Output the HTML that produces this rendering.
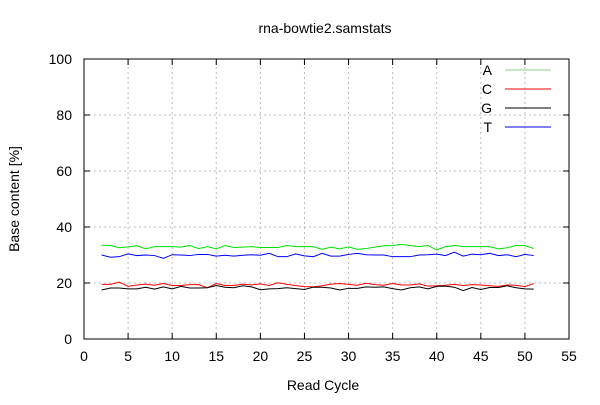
<!DOCTYPE html>
<html><head><meta charset="utf-8"><style>
body{margin:0;background:#fff;font-family:"Liberation Sans",sans-serif;}
svg text{font-family:"Liberation Sans",sans-serif;}
</style></head><body>
<svg id="chart" width="600" height="400" xmlns="http://www.w3.org/2000/svg">
<text x="325" y="33" font-size="14" text-anchor="middle">rna-bowtie2.samstats</text>
<text transform="translate(19,199) rotate(-90)" font-size="14" text-anchor="middle">Base content [%]</text>
<text x="323" y="390" font-size="14" text-anchor="middle">Read Cycle</text>
<g id="grid"></g><g id="axes"></g><g id="series"></g><g id="legend"></g>
</svg>
<script>
const xTicks=[0,5,10,15,20,25,30,35,40,45,50,55];
const yTicks=[0,20,40,60,80,100];
const cycles=[2,3,4,5,6,7,8,9,10,11,12,13,14,15,16,17,18,19,20,21,22,23,24,25,26,27,28,29,30,31,32,33,34,35,36,37,38,39,40,41,42,43,44,45,46,47,48,49,50,51];
const seriesA=[33.5,33.4,32.6,32.9,33.3,32.2,33,33,33,32.8,33.4,32.3,33,32.2,33.4,32.7,32.8,33,32.7,32.7,32.7,33.4,33,33,33,32,32.8,32.2,32.9,32,32.3,32.8,33.3,33.4,33.8,33.4,33,33.4,31.8,33,33.4,33,33,33,33,32.2,32.6,33.4,33.4,32.3];
const seriesC=[19.5,19.5,20.3,18.8,19.3,19.6,19.2,19.8,19.1,19.1,19.4,19.4,18.3,19.8,19.1,19.1,19.6,19.3,19.7,19.1,20.1,19.5,19.1,18.7,18.6,19,19.6,19.8,19.5,19.2,19.9,19.4,19.2,19.8,19.3,19.3,19.7,18.9,19,19.2,19.5,19.1,19.4,19.3,19,18.8,19.3,19.2,18.7,19.8];
const seriesG=[17.5,18.2,18.2,17.9,17.9,18.5,17.8,18.6,17.9,18.8,18.2,18.2,18.3,19.1,18.5,18.3,19,18.6,17.6,17.9,18,18.3,18,17.7,18.5,18.5,18.2,17.5,18.1,18.1,18.6,18.5,18.6,18,17.5,18.3,18.6,17.9,18.8,18.9,18.5,17.3,18.4,17.7,18.4,18.4,19,18.3,17.9,17.8];
const seriesT=[30,29.2,29.4,30.4,29.8,30,29.8,28.8,30.1,30,29.8,30.2,30.2,29.6,29.9,29.6,29.9,30.1,29.9,30.6,29.4,29.4,30.4,29.7,29.4,30.6,29.6,29.6,30.2,30.6,30.1,30,30,29.4,29.4,29.4,30,30.1,30.3,29.8,31,29.6,30.3,30.1,30.6,29.8,30.1,29.4,30.2,29.8];
const names=["A","C","G","T"];
const colors=["#8fd18f","#ff0000","#000000","#0000ff"];
const colorsLine=["#00e000","#ff0000","#000000","#0000ff"];
const allSeries=[seriesA,seriesC,seriesG,seriesT];
const X0=84,X1=569,Y0=339,Y1=59;
const xs=v=>X0+(v-0)/(55-0)*(X1-X0);
const ys=v=>Y0-(v-0)/(100-0)*(Y0-Y1);
const NS="http://www.w3.org/2000/svg";
function mk(tag,attrs,parent,txt){const e=document.createElementNS(NS,tag);for(const k in attrs)e.setAttribute(k,attrs[k]);if(txt!==undefined)e.textContent=txt;parent.appendChild(e);return e;}
const grid=document.getElementById('grid'),axes=document.getElementById('axes'),ser=document.getElementById('series'),leg=document.getElementById('legend');
xTicks.forEach(t=>{
 if(t>0&&t<55){const g=mk('line',{x1:xs(t),x2:xs(t),y1:Y0,y2:Y1,stroke:'#bbb','stroke-dasharray':'2,3'},grid);
 
 }
 mk('line',{x1:xs(t),x2:xs(t),y1:Y0,y2:Y0-6,stroke:'#000'},axes);
 mk('line',{x1:xs(t),x2:xs(t),y1:Y1,y2:Y1+6,stroke:'#000'},axes);
 const l=mk('text',{x:xs(t),y:Y0+22,'font-size':14,'text-anchor':'middle'},axes,t);
 
 
});
yTicks.forEach(t=>{
 if(t>0&&t<100){const g=mk('line',{x1:X0,x2:X1,y1:ys(t),y2:ys(t),stroke:'#bbb','stroke-dasharray':'2,3'},grid);
 
 }
 mk('line',{x1:X0,x2:X0+6,y1:ys(t),y2:ys(t),stroke:'#000'},axes);
 mk('line',{x1:X1,x2:X1-6,y1:ys(t),y2:ys(t),stroke:'#000'},axes);
 const l=mk('text',{x:X0-12,y:ys(t)+5,'font-size':14,'text-anchor':'end'},axes,t);
 
 
});
const frame=mk('rect',{x:X0,y:Y1,width:X1-X0,height:Y0-Y1,fill:'none',stroke:'#000'},axes);


allSeries.forEach((s,i)=>{
 const p=mk('polyline',{points:s.map((v,j)=>xs(cycles[j])+','+ys(v)).join(' '),fill:'none',stroke:colorsLine[i],'stroke-width':1},ser);
 
 
 const y=75+i*19;
 const t=mk('text',{x:492,y:y,'font-size':14,'text-anchor':'end'},leg,names[i]);
 
 
 const l=mk('line',{x1:505,x2:551,y1:y-5,y2:y-5,stroke:i==0?colors[0]:colorsLine[i]},leg);
 
 
});
</script>
</body></html>
